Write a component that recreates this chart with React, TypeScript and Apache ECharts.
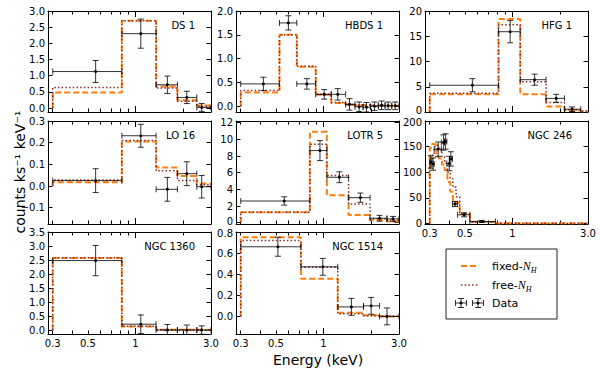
import React, { useEffect, useRef } from 'react';
import * as echarts from 'echarts';

// ---------- axis ticks / labels ----------
const xMin = 0.28;
const xMax = 3.0;
const xLabelValues = [0.3, 0.5, 1, 3];
const xLabelTexts = ['0.3', '0.5', '1', '3.0'];
const xMinorTicks = [0.3, 0.4, 0.5, 0.6, 0.7, 0.8, 0.9, 2, 3];
const xMajorTicks = [1];

// ---------- DS 1 ----------
const ds1Edges = [0.3, 0.82, 1.35, 1.84, 2.44, 3.0];
const ds1Fixed = [0.48, 2.7, 0.67, 0.24, 0.08];
const ds1Free = [0.64, 2.7, 0.62, 0.21, 0.06];
const ds1DataE = [0.56, 1.08, 1.59, 2.11, 2.62];
const ds1DataY = [1.13, 2.3, 0.72, 0.33, 0.02];
const ds1DataErr = [0.34, 0.45, 0.27, 0.19, 0.12];
const ds1YTicks = [0, 0.5, 1, 1.5, 2, 2.5, 3];

// ---------- HBDS 1 ----------
const hbdsEdges = [0.3, 0.527, 0.678, 0.893, 1.12, 1.38, 1.58, 1.78, 1.98, 2.22, 2.45, 2.7, 3.0];
const hbdsFixed = [0.29, 1.5, 0.83, 0.24, 0.07, 0.03, 0.02, 0.02, 0.01, 0.01, 0.01, 0.01];
const hbdsFree = [0.33, 1.5, 0.84, 0.25, 0.08, 0.04, 0.02, 0.02, 0.01, 0.01, 0.01, 0.01];
const hbdsDataE = [0.417, 0.6, 0.785, 1.01, 1.23, 1.46, 1.68, 1.87, 2.1, 2.33, 2.56, 2.84];
const hbdsDataY = [0.47, 1.75, 0.47, 0.25, 0.25, 0.04, -0.01, -0.02, 0.0, 0.02, 0.01, 0.01];
const hbdsDataErr = [0.14, 0.15, 0.11, 0.1, 0.12, 0.12, 0.1, 0.1, 0.09, 0.09, 0.08, 0.08];
const hbdsYTicks = [0, 0.5, 1, 1.5, 2];

// ---------- HFG 1 ----------
const hfgEdges = [0.3, 0.816, 1.12, 1.63, 2.13, 2.7, 3.0];
const hfgFixed = [3.5, 18.4, 3.5, 1.1, 0.3, 0.15];
const hfgFree = [3.7, 17.3, 6.0, 1.9, 0.45, 0.2];
const hfgDataE = [0.558, 0.967, 1.38, 1.89, 2.38];
const hfgDataY = [5.3, 15.9, 6.4, 2.7, 0.55];
const hfgDataErr = [1.3, 2.2, 1.1, 0.8, 0.45];
const hfgYTicks = [0, 5, 10, 15, 20];

// ---------- LO 16 ----------
const lo16Edges = [0.3, 0.82, 1.35, 1.84, 2.44, 3.0];
const lo16Fixed = [0.018, 0.205, 0.085, 0.046, 0.012];
const lo16Free = [0.028, 0.21, 0.07, 0.026, 0.006];
const lo16DataE = [0.56, 1.08, 1.59, 2.11, 2.62];
const lo16DataY = [0.025, 0.232, -0.015, 0.057, -0.003];
const lo16DataErr = [0.055, 0.053, 0.055, 0.055, 0.052];
const lo16YTicks = [-0.1, 0, 0.1, 0.2, 0.3];

// ---------- LOTR 5 ----------
const lotrEdges = [0.3, 0.82, 1.05, 1.44, 1.97, 2.52, 3.0];
const lotrFixed = [1.25, 10.9, 3.3, 0.92, 0.32, 0.15];
const lotrFree = [1.25, 9.4, 5.65, 2.25, 0.48, 0.28];
const lotrDataE = [0.565, 0.95, 1.26, 1.71, 2.26, 2.75];
const lotrDataY = [2.6, 8.65, 5.45, 3.0, 0.53, 0.45];
const lotrDataErr = [0.5, 1.2, 0.65, 0.55, 0.35, 0.3];
const lotrYTicks = [0, 2, 4, 6, 8, 10, 12];

// ---------- NGC 246 ----------
const n246Edges = [0.3, 0.31, 0.32, 0.33, 0.343, 0.358, 0.373, 0.388, 0.404, 0.42, 0.44, 0.464, 0.538, 0.79, 3.0];
const n246Fixed = [148, 155, 154, 130, 127, 115, 104, 81, 62, 45, 40, 18, 3, 0.5];
const n246Free = [123, 133, 150, 152, 145, 130, 118, 100, 88, 71, 52, 19, 3, 0.5];
const n246DataEdges = [0.3, 0.31, 0.32, 0.355, 0.372, 0.385, 0.4, 0.418, 0.45, 0.538, 0.78];
const n246DataE = [0.305, 0.315, 0.339, 0.366, 0.378, 0.399, 0.408, 0.433, 0.495, 0.64];
const n246DataY = [120, 116, 145, 158, 160, 117, 126, 38, 17, 4];
const n246DataErr = [12, 12, 14, 15, 15, 14, 14, 5, 4, 2];
const n246YTicks = [0, 50, 100, 150, 200];

// ---------- NGC 1360 ----------
const n1360Edges = [0.3, 0.82, 1.35, 1.84, 2.44, 3.0];
const n1360Fixed = [2.57, 0.13, 0.01, 0.01, 0.005];
const n1360Free = [2.58, 0.14, 0.01, 0.01, 0.005];
const n1360DataE = [0.56, 1.08, 1.59, 2.11, 2.62];
const n1360DataY = [2.48, 0.21, 0.0, 0.0, 0.0];
const n1360DataErr = [0.54, 0.33, 0.2, 0.18, 0.15];
const n1360YTicks = [0, 0.5, 1, 1.5, 2, 2.5, 3, 3.5];

// ---------- NGC 1514 ----------
const n1514Edges = [0.3, 0.72, 1.23, 1.79, 2.26, 3.0];
const n1514Fixed = [0.75, 0.357, 0.035, 0.01, 0.0];
const n1514Free = [0.72, 0.465, 0.025, 0.005, 0.0];
const n1514DataE = [0.515, 0.99, 1.5, 2.0, 2.52];
const n1514DataY = [0.66, 0.47, 0.09, 0.1, 0.0];
const n1514DataErr = [0.09, 0.08, 0.08, 0.08, 0.08];
const n1514YTicks = [0, 0.2, 0.4, 0.6, 0.8];

const panels = [
  { name: 'DS 1', edges: ds1Edges, dataEdges: ds1Edges, fixed: ds1Fixed, free: ds1Free, dE: ds1DataE, dY: ds1DataY, dErr: ds1DataErr, yTicks: ds1YTicks, yMin: -0.12, yMax: 3.0, dec: 1 },
  { name: 'HBDS 1', edges: hbdsEdges, dataEdges: hbdsEdges, fixed: hbdsFixed, free: hbdsFree, dE: hbdsDataE, dY: hbdsDataY, dErr: hbdsDataErr, yTicks: hbdsYTicks, yMin: -0.12, yMax: 2.0, dec: 1 },
  { name: 'HFG 1', edges: hfgEdges, dataEdges: hfgEdges, fixed: hfgFixed, free: hfgFree, dE: hfgDataE, dY: hfgDataY, dErr: hfgDataErr, yTicks: hfgYTicks, yMin: 0, yMax: 20, dec: 0 },
  { name: 'LO 16', edges: lo16Edges, dataEdges: lo16Edges, fixed: lo16Fixed, free: lo16Free, dE: lo16DataE, dY: lo16DataY, dErr: lo16DataErr, yTicks: lo16YTicks, yMin: -0.175, yMax: 0.3, dec: 1 },
  { name: 'LOTR 5', edges: lotrEdges, dataEdges: lotrEdges, fixed: lotrFixed, free: lotrFree, dE: lotrDataE, dY: lotrDataY, dErr: lotrDataErr, yTicks: lotrYTicks, yMin: -0.16, yMax: 12.2, dec: 0 },
  { name: 'NGC 246', edges: n246Edges, dataEdges: n246DataEdges, fixed: n246Fixed, free: n246Free, dE: n246DataE, dY: n246DataY, dErr: n246DataErr, yTicks: n246YTicks, yMin: -1, yMax: 200, dec: 0 },
  { name: 'NGC 1360', edges: n1360Edges, dataEdges: n1360Edges, fixed: n1360Fixed, free: n1360Free, dE: n1360DataE, dY: n1360DataY, dErr: n1360DataErr, yTicks: n1360YTicks, yMin: -0.14, yMax: 3.5, dec: 1 },
  { name: 'NGC 1514', edges: n1514Edges, dataEdges: n1514Edges, fixed: n1514Fixed, free: n1514Free, dE: n1514DataE, dY: n1514DataY, dErr: n1514DataErr, yTicks: n1514YTicks, yMin: -0.167, yMax: 0.8, dec: 1 },
];

// ---------- layout / style ----------
const colLeft = [48, 236, 425];
const rowTop = [11, 121, 232];
const rowH = [101, 103, 102];
const plotW = 163;
const labelledX = [5, 6, 7];
// panels whose lowest / highest y label sits next to a neighbouring panel's label
const nudgeLowest = [2, 4];
const nudgeHighest = [5, 7];
const FONT = 'DejaVu Sans';
const FIXED_COLOR = '#ff7f0e';
const FREE_COLOR = '#8b2a2a';
const ERR_COLOR = 'rgba(0,0,0,0.8)';
const CAP = 3;

function stepPoints(edges: number[], vals: number[]) {
  const pts: number[][] = [[edges[0], 0]];
  vals.forEach((v, k) => {
    pts.push([edges[k], v]);
    pts.push([edges[k + 1], v]);
  });
  return pts;
}

function fmtY(v: number, dec: number) {
  const s = v.toFixed(dec);
  return s.replace('-', '\u2212');
}

function errRender(params: any, api: any) {
  const E = api.value(0), y = api.value(1), lo = api.value(2), hi = api.value(3), e = api.value(4);
  const c = api.coord([E, y]);
  const pl = api.coord([lo, y]);
  const ph = api.coord([hi, y]);
  const pt = api.coord([E, y + e]);
  const pb = api.coord([E, y - e]);
  const st = { stroke: ERR_COLOR, lineWidth: 1 };
  return {
    type: 'group',
    children: [
      { type: 'line', shape: { x1: pl[0], y1: c[1], x2: ph[0], y2: c[1] }, style: st },
      { type: 'line', shape: { x1: pl[0], y1: c[1] - CAP, x2: pl[0], y2: c[1] + CAP }, style: st },
      { type: 'line', shape: { x1: ph[0], y1: c[1] - CAP, x2: ph[0], y2: c[1] + CAP }, style: st },
      { type: 'line', shape: { x1: c[0], y1: pt[1], x2: c[0], y2: pb[1] }, style: st },
      { type: 'line', shape: { x1: c[0] - CAP, y1: pt[1], x2: c[0] + CAP, y2: pt[1] }, style: st },
      { type: 'line', shape: { x1: c[0] - CAP, y1: pb[1], x2: c[0] + CAP, y2: pb[1] }, style: st },
      { type: 'circle', shape: { cx: c[0], cy: c[1], r: 1.5 }, style: { fill: '#000' } },
    ],
  };
}

function legendErrSymbol(cx: number, cy: number) {
  const st = { stroke: ERR_COLOR, lineWidth: 1 };
  const hw = 5.5, hh = 4.5;
  return [
    { type: 'line', shape: { x1: cx - hw, y1: cy, x2: cx + hw, y2: cy }, style: st },
    { type: 'line', shape: { x1: cx - hw, y1: cy - CAP, x2: cx - hw, y2: cy + CAP }, style: st },
    { type: 'line', shape: { x1: cx + hw, y1: cy - CAP, x2: cx + hw, y2: cy + CAP }, style: st },
    { type: 'line', shape: { x1: cx, y1: cy - hh, x2: cx, y2: cy + hh }, style: st },
    { type: 'line', shape: { x1: cx - CAP, y1: cy - hh, x2: cx + CAP, y2: cy - hh }, style: st },
    { type: 'line', shape: { x1: cx - CAP, y1: cy + hh, x2: cx + CAP, y2: cy + hh }, style: st },
    { type: 'circle', shape: { cx, cy, r: 1.5 }, style: { fill: '#000' } },
  ];
}

function buildOption() {
  const grid: any[] = [];
  const xAxis: any[] = [];
  const yAxis: any[] = [];
  const series: any[] = [];
  const graphic: any[] = [];
  const lineSt = { color: '#000', width: 1 };

  panels.forEach((p, i) => {
    const col = i % 3;
    const row = Math.floor(i / 3);
    const left = colLeft[col];
    const top = rowTop[row];
    const h = rowH[row];
    grid.push({ left, top, width: plotW, height: h, containLabel: false });
    const showX = labelledX.includes(i);
    const baseX = {
      type: 'log', logBase: 10, gridIndex: i, min: xMin, max: xMax,
      splitLine: { show: false }, minorTick: { show: false }, minorSplitLine: { show: false },
    };
    const xLabel = {
      show: showX, customValues: xLabelValues, color: '#000', fontSize: 10, fontFamily: FONT, margin: 4, lineHeight: 10,
      formatter: (v: number) => {
        const k = xLabelValues.findIndex((t) => Math.abs(t - v) / t < 1e-3);
        return k >= 0 ? xLabelTexts[k] : '';
      },
    };
    ['bottom', 'top'].forEach((pos) => {
      xAxis.push({
        ...baseX, position: pos,
        axisLine: { show: true, onZero: false, lineStyle: lineSt },
        axisTick: { show: true, inside: true, length: 3.5, customValues: xMinorTicks, lineStyle: lineSt },
        axisLabel: pos === 'bottom' ? xLabel : { show: false },
      });
      xAxis.push({
        ...baseX, position: pos,
        axisLine: { show: false, onZero: false },
        axisTick: { show: true, inside: true, length: 6, customValues: xMajorTicks, lineStyle: lineSt },
        axisLabel: { show: false },
      });
    });
    const lowV = p.yTicks[0];
    const highV = p.yTicks[p.yTicks.length - 1];
    const yRich = {
      lo: { fontSize: 10, fontFamily: FONT, color: '#000', lineHeight: 9, padding: [0, 0, 3, 0] },
      hi: { fontSize: 10, fontFamily: FONT, color: '#000', lineHeight: 9, padding: [3, 0, 0, 0] },
    };
    ['left', 'right'].forEach((pos) => {
      yAxis.push({
        type: 'value', gridIndex: i, min: p.yMin, max: p.yMax, position: pos,
        splitLine: { show: false },
        axisLine: { show: true, onZero: false, lineStyle: lineSt },
        axisTick: { show: true, inside: true, length: 4.5, customValues: p.yTicks, lineStyle: lineSt },
        axisLabel: pos === 'left'
          ? {
              show: true, customValues: p.yTicks, color: '#000', fontSize: 10, lineHeight: 9, fontFamily: FONT, margin: 3,
              rich: yRich,
              formatter: (v: number) => {
                const s = fmtY(v, p.dec);
                if (nudgeLowest.includes(i) && Math.abs(v - lowV) < 1e-9) return '{lo|' + s + '}';
                if (nudgeHighest.includes(i) && Math.abs(v - highV) < 1e-9) return '{hi|' + s + '}';
                return s;
              },
            }
          : { show: false },
      });
    });
    const xi = i * 4;
    const yi = i * 2;
    series.push({
      type: 'line', name: 'fixed', xAxisIndex: xi, yAxisIndex: yi, data: stepPoints(p.edges, p.fixed),
      showSymbol: false, symbol: 'none', clip: true, silent: true,
      lineStyle: { color: FIXED_COLOR, width: 2, type: [6, 3] }, z: 2,
    });
    series.push({
      type: 'line', name: 'free', xAxisIndex: xi, yAxisIndex: yi, data: stepPoints(p.edges, p.free),
      showSymbol: false, symbol: 'none', clip: true, silent: true,
      lineStyle: { color: FREE_COLOR, width: 1.5, type: [1.5, 2.2] }, z: 3,
    });
    series.push({
      type: 'custom', name: 'data', xAxisIndex: xi, yAxisIndex: yi, clip: true, silent: true,
      encode: { x: 0, y: 1 },
      data: p.dE.map((e, k) => [e, p.dY[k], p.dataEdges[k], p.dataEdges[k + 1], p.dErr[k]]),
      renderItem: errRender, z: 4,
    });
    graphic.push({
      type: 'text', x: left + plotW - 16, y: top + 14,
      style: { text: p.name, fontSize: 10, fontFamily: FONT, fill: '#000', align: 'right', verticalAlign: 'middle' },
    });
  });

  // axis titles
  graphic.push({
    type: 'text', x: 20, y: 172, rotation: Math.PI / 2,
    style: { text: 'counts ks\u207B\u00B9 keV\u207B\u00B9', fontSize: 14, fontFamily: FONT, fill: '#000', align: 'center', verticalAlign: 'middle' },
  });
  graphic.push({
    type: 'text', x: 318, y: 360,
    style: { text: 'Energy (keV)', fontSize: 14, fontFamily: FONT, fill: '#000', align: 'center', verticalAlign: 'middle' },
  });

  // legend box
  const rich = {
    n: { fontSize: 12, fontStyle: 'italic', fontFamily: 'Liberation Serif', lineHeight: 16, verticalAlign: 'middle' },
    h: { fontSize: 8, fontStyle: 'italic', fontFamily: 'Liberation Serif', lineHeight: 8, verticalAlign: 'bottom' },
  };
  graphic.push({
    type: 'rect', shape: { x: 446, y: 249, width: 111, height: 70 },
    style: { fill: '#fff', stroke: '#222', lineWidth: 1 }, z: 10,
  });
  graphic.push({
    type: 'line', shape: { x1: 461, y1: 266, x2: 477, y2: 266 },
    style: { stroke: FIXED_COLOR, lineWidth: 2, lineDash: [6, 3] }, z: 11,
  });
  graphic.push({
    type: 'line', shape: { x1: 461, y1: 285, x2: 478, y2: 285 },
    style: { stroke: FREE_COLOR, lineWidth: 1.5, lineDash: [1.5, 2.2] }, z: 11,
  });
  legendErrSymbol(461, 303).concat(legendErrSymbol(478, 303)).forEach((g) => graphic.push({ ...g, z: 11 }));
  graphic.push({
    type: 'text', x: 492, y: 266, z: 11,
    style: { text: 'fixed-{n|N}{h|H}', fontSize: 11, fontFamily: FONT, fill: '#000', align: 'left', verticalAlign: 'middle', lineHeight: 16, rich },
  });
  graphic.push({
    type: 'text', x: 492, y: 285, z: 11,
    style: { text: 'free-{n|N}{h|H}', fontSize: 11, fontFamily: FONT, fill: '#000', align: 'left', verticalAlign: 'middle', lineHeight: 16, rich },
  });
  graphic.push({
    type: 'text', x: 492, y: 303, z: 11,
    style: { text: 'Data', fontSize: 11, fontFamily: FONT, fill: '#000', align: 'left', verticalAlign: 'middle' },
  });

  return {
    animation: false,
    backgroundColor: '#fff',
    textStyle: { fontFamily: FONT },
    grid, xAxis, yAxis, series, graphic,
  };
}

export default function App() {
  const ref = useRef<HTMLDivElement>(null);
  useEffect(() => {
    document.body.style.margin = '0';
    if (!ref.current) return;
    const chart = echarts.init(ref.current, undefined, { renderer: 'svg' });
    chart.setOption(buildOption() as any);
    return () => chart.dispose();
  }, []);
  return <div ref={ref} style={{ width: 600, height: 373 }} />;
}
